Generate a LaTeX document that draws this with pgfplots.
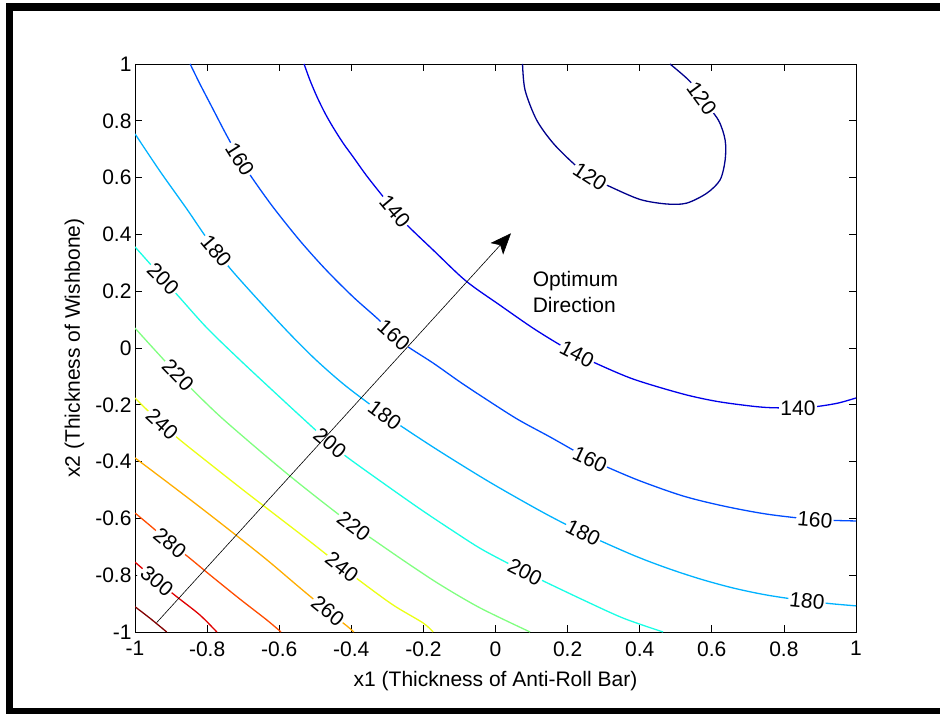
\documentclass[border=0pt]{standalone}
\usepackage{fontspec}
\setmainfont{Liberation Sans}
\usepackage{pgfplots}
\pgfplotsset{compat=1.18}
\usetikzlibrary{arrows.meta}

% jet colours for the contour levels 120 ... 320
\definecolor{c120}{rgb}{0,0,0.55}
\definecolor{c140}{rgb}{0,0,0.92}
\definecolor{c160}{rgb}{0,0.3,1}
\definecolor{c180}{rgb}{0,0.7,1}
\definecolor{c200}{rgb}{0.1,1,0.9}
\definecolor{c220}{rgb}{0.5,1,0.5}
\definecolor{c240}{rgb}{0.92,1,0.08}
\definecolor{c260}{rgb}{1,0.68,0}
\definecolor{c280}{rgb}{1,0.3,0}
\definecolor{c300}{rgb}{0.88,0,0}
\definecolor{c320}{rgb}{0.5,0,0}

\newcommand{\lblfont}{\fontsize{21}{25}\selectfont}
% inline contour label: x, y, angle, text
\newcommand{\clab}[4]{\node[fill=white,inner sep=1.2pt,rotate=#3,font=\lblfont] at (axis cs:#1,#2) {#4};}

\begin{document}
\begin{tikzpicture}
\useasboundingbox (0pt,0pt) rectangle (940pt,713pt);
\begin{scope}
  \clip (0pt,0pt) rectangle (940pt,713pt);
  \draw[line width=7.4pt] (9.7pt,1.3pt) rectangle (946pt,706pt);
\end{scope}

\begin{axis}[
  at={(135pt,81pt)}, anchor=south west,
  scale only axis, width=721pt, height=568pt,
  xmin=-1, xmax=1, ymin=-1, ymax=1,
  xtick={-1,-0.8,-0.6,-0.4,-0.2,0,0.2,0.4,0.6,0.8,1},
  ytick={-1,-0.8,-0.6,-0.4,-0.2,0,0.2,0.4,0.6,0.8,1},
  xticklabels={-1,-0.8,-0.6,-0.4,-0.2,0,0.2,0.4,0.6,0.8,1},
  yticklabels={-1,-0.8,-0.6,-0.4,-0.2,0,0.2,0.4,0.6,0.8,1},
  tick align=inside, tick pos=both,
  major tick length=7pt,
  axis line style={line width=0.8pt},
  tick style={line width=0.8pt, black},
  tick label style={font=\lblfont},
  xticklabel style={yshift=-6pt},
  xlabel={x1 (Thickness of Anti-Roll Bar)},
  ylabel={x2 (Thickness of Wishbone)},
  label style={font=\lblfont},
  xlabel style={at={(axis description cs:0.5,0)}, anchor=base, yshift=-54.7pt},
  % the label is turned by 90 degrees, so its yshift moves it to the left
  ylabel style={at={(axis description cs:0,0.5)}, anchor=base, yshift=55pt},
  every axis plot/.append style={no markers, line width=1.3pt, line join=round},
]

% level 120
\addplot[c120, smooth] coordinates {
 (0.075,1) (0.082,0.908) (0.114,0.803) (0.160,0.721) (0.216,0.650) (0.262,0.603)
 (0.318,0.568) (0.401,0.523) (0.475,0.507) (0.530,0.510) (0.586,0.545)
 (0.623,0.592) (0.637,0.662) (0.637,0.732) (0.618,0.803) (0.572,0.879) (0.540,0.938) (0.484,1)};

% level 140
\addplot[c140, smooth] coordinates {
 (-0.531,1) (-0.515,0.944) (-0.495,0.884) (-0.473,0.827) (-0.451,0.778) (-0.423,0.722)
 (-0.395,0.673) (-0.359,0.609) (-0.320,0.546) (-0.279,0.482) (-0.243,0.430)
 (-0.173,0.345) (-0.082,0.236) (0.012,0.151) (0.104,0.070) (0.179,0.011)
 (0.226,-0.021) (0.270,-0.049) (0.381,-0.109) (0.520,-0.162) (0.614,-0.188)
 (0.706,-0.204) (0.761,-0.210) (0.839,-0.211) (0.892,-0.206) (0.950,-0.194) (1,-0.176)};

% level 160
\addplot[c160, smooth] coordinates {
 (-0.847,1) (-0.820,0.930) (-0.784,0.842) (-0.748,0.754) (-0.709,0.665) (-0.673,0.595)
 (-0.617,0.496) (-0.542,0.377) (-0.470,0.275) (-0.395,0.180) (-0.326,0.102)
 (-0.282,0.046) (-0.246,0.007) (-0.173,-0.053) (-0.098,-0.120) (-0.035,-0.173)
 (0.060,-0.250) (0.151,-0.313) (0.215,-0.359) (0.262,-0.391) (0.309,-0.419)
 (0.401,-0.468) (0.520,-0.521) (0.631,-0.556) (0.753,-0.585) (0.886,-0.604) (1,-0.609)};

% level 180
\addplot[c180, smooth] coordinates {
 (-1,0.754) (-0.931,0.623) (-0.856,0.489) (-0.811,0.405) (-0.775,0.342) (-0.728,0.268)
 (-0.653,0.162) (-0.570,0.049) (-0.498,-0.042) (-0.415,-0.134) (-0.307,-0.236)
 (-0.173,-0.349) (-0.035,-0.458) (0.060,-0.528) (0.151,-0.592) (0.243,-0.651)
 (0.381,-0.729) (0.476,-0.775) (0.567,-0.813) (0.659,-0.845) (0.753,-0.870)
 (0.864,-0.891) (0.936,-0.901) (1,-0.908)};

% level 200
\addplot[c200, smooth] coordinates {
 (-1,0.356) (-0.958,0.296) (-0.922,0.243) (-0.875,0.176) (-0.800,0.070)
 (-0.709,-0.042) (-0.617,-0.151) (-0.542,-0.239) (-0.459,-0.335) (-0.412,-0.384)
 (-0.320,-0.468) (-0.209,-0.567) (-0.118,-0.644) (-0.035,-0.711) (0.082,-0.789)
 (0.132,-0.820) (0.243,-0.887) (0.354,-0.951) (0.465,-1)};

% level 220
\addplot[c220, smooth] coordinates {
 (-1,0.070) (-0.945,-0.007) (-0.881,-0.095) (-0.820,-0.173) (-0.756,-0.250)
 (-0.653,-0.363) (-0.570,-0.451) (-0.487,-0.535) (-0.393,-0.627) (-0.348,-0.667)
 (-0.245,-0.757) (-0.154,-0.833) (-0.043,-0.915) (0.096,-1)};

% level 240
\addplot[c240, smooth] coordinates {
 (-1,-0.176) (-0.978,-0.204) (-0.925,-0.268) (-0.875,-0.324) (-0.792,-0.408)
 (-0.700,-0.500) (-0.606,-0.592) (-0.523,-0.673) (-0.467,-0.729) (-0.426,-0.771)
 (-0.376,-0.820) (-0.284,-0.905) (-0.201,-0.968) (-0.173,-1)};

% level 260
\addplot[c260, smooth] coordinates {
 (-1,-0.387) (-0.911,-0.472) (-0.820,-0.560) (-0.728,-0.651) (-0.634,-0.746)
 (-0.542,-0.845) (-0.465,-0.926) (-0.412,-0.979) (-0.393,-1)};

% level 280
\addplot[c280, smooth] coordinates {
 (-1,-0.581) (-0.950,-0.634) (-0.903,-0.687) (-0.856,-0.732) (-0.792,-0.799)
 (-0.709,-0.884) (-0.634,-0.958) (-0.595,-1)};

% level 300
\addplot[c300, smooth] coordinates {
 (-1,-0.754) (-0.939,-0.820) (-0.883,-0.877) (-0.820,-0.940) (-0.773,-1)};

% level 320
\addplot[c320, smooth] coordinates {
 (-1,-0.911) (-0.958,-0.952) (-0.912,-1)};

% contour labels
\clab{0.262}{0.603}{-33}{120}
\clab{0.572}{0.879}{-54}{120}
\clab{-0.279}{0.482}{-50}{140}
\clab{0.226}{-0.021}{-27}{140}
\clab{0.839}{-0.211}{0}{140}
\clab{-0.709}{0.665}{-58}{160}
\clab{-0.282}{0.046}{-42}{160}
\clab{0.262}{-0.391}{-25}{160}
\clab{0.886}{-0.604}{-5}{160}
\clab{-0.775}{0.342}{-50}{180}
\clab{-0.307}{-0.236}{-37}{180}
\clab{0.243}{-0.651}{-27}{180}
\clab{0.864}{-0.891}{-6}{180}
\clab{-0.922}{0.243}{-45}{200}
\clab{-0.459}{-0.335}{-40}{200}
\clab{0.082}{-0.789}{-27}{200}
\clab{-0.881}{-0.095}{-46}{220}
\clab{-0.393}{-0.627}{-37}{220}
\clab{-0.925}{-0.268}{-43}{240}
\clab{-0.426}{-0.771}{-38}{240}
\clab{-0.465}{-0.926}{-39}{260}
\clab{-0.903}{-0.687}{-40}{280}
\clab{-0.939}{-0.820}{-40}{300}

% direction of improvement
\draw[-{Stealth[length=21pt,width=17pt,inset=5pt]}, line width=0.6pt, black]
  (axis cs:-0.94,-0.967) -- (axis cs:0.043,0.404);
\node[anchor=base west, font=\lblfont, inner sep=0pt] at (axis cs:0.103,0.216) {Optimum};
\node[anchor=base west, font=\lblfont, inner sep=0pt] at (axis cs:0.103,0.124) {Direction};
\end{axis}
\end{tikzpicture}
\end{document}
